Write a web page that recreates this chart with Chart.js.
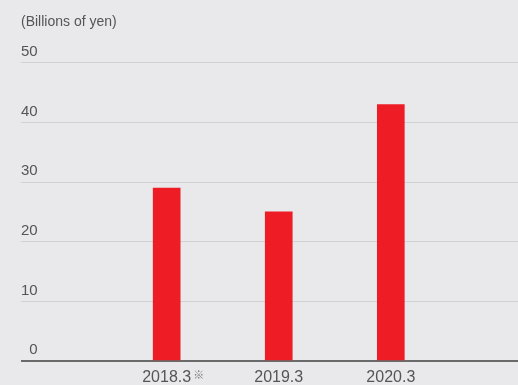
<!DOCTYPE html>
<html lang="en">
<head>
  <meta charset="UTF-8">
  <title>Billions of yen</title>
  <script src="https://cdn.jsdelivr.net/npm/chart.js"></script>
  <style>
    html, body { margin: 0; padding: 0; background: #e9e9eb; }
    canvas { display: block; }
  </style>
</head>
<body>
  <canvas id="yenChart" width="518" height="385"></canvas>

  <script>
    // fiscal years and amounts (billions of yen)
    const years = ['2018.3', '2019.3', '2020.3'];
    const amounts = [29, 25, 43];
    const notes = ['※', '', ''];
    const yTicks = [0, 10, 20, 30, 40, 50];

    const textColor = '#555';
    Chart.defaults.font.family = '"Liberation Sans", Arial, sans-serif';

    // small note mark next to a year label
    const noteMarks = {
      id: 'noteMarks',
      afterDraw(chart) {
        const x = chart.scales.x;
        const ctx = chart.ctx;
        ctx.save();
        notes.forEach((n, i) => {
          if (!n) return;
          ctx.font = '16px "Liberation Sans", Arial, sans-serif';
          const w = ctx.measureText(years[i]).width;
          const px = x.getPixelForValue(i) + w / 2 + 2;
          ctx.font = '11px "Noto Sans CJK JP", sans-serif';
          ctx.fillStyle = '#777';
          ctx.textBaseline = 'middle';
          ctx.textAlign = 'left';
          ctx.fillText(n, px, 375);
        });
        ctx.restore();
      }
    };

    new Chart(document.getElementById('yenChart'), {
      type: 'bar',
      data: {
        datasets: [{
          data: years.map((y, i) => ({ x: i, y: amounts[i] })),
          backgroundColor: '#ee1c25',
          borderWidth: 0,
          barThickness: 27
        }]
      },
      options: {
        responsive: false,
        animation: false,
        devicePixelRatio: 1,
        layout: { padding: { left: 21, right: 0, top: 0, bottom: 0 } },
        plugins: {
          legend: { display: false },
          tooltip: { enabled: false },
          title: {
            display: true,
            text: '(Billions of yen)',
            align: 'start',
            color: textColor,
            font: { size: 14, weight: 'normal' },
            padding: { top: 14, bottom: 32 }
          }
        },
        scales: {
          x: {
            type: 'linear',
            offset: false,
            min: -1.3,
            max: 3.135,
            afterBuildTicks: s => { s.ticks = years.map((_, i) => ({ value: i })); },
            afterFit: s => { s.height = 24; },
            grid: { display: false },
            border: { display: false },
            ticks: {
              callback: v => years[v],
              color: textColor,
              font: { size: 16 },
              padding: -1,
              maxRotation: 0,
              autoSkip: false
            }
          },
          y: {
            min: 0,
            max: 50,
            afterBuildTicks: s => { s.ticks = yTicks.map(v => ({ value: v })); },
            afterFit: s => { s.width = 0; },
            border: { display: false },
            grid: {
              drawTicks: false,
              color: c => c.tick.value === 0 ? '#6a6a6a' : '#d0d1d3',
              lineWidth: c => c.tick.value === 0 ? 2 : 1
            },
            ticks: {
              mirror: true,
              crossAlign: 'far',
              padding: 0,
              labelOffset: -11,
              color: textColor,
              font: { size: 15 }
            }
          }
        }
      },
      plugins: [noteMarks]
    });
  </script>
</body>
</html>
